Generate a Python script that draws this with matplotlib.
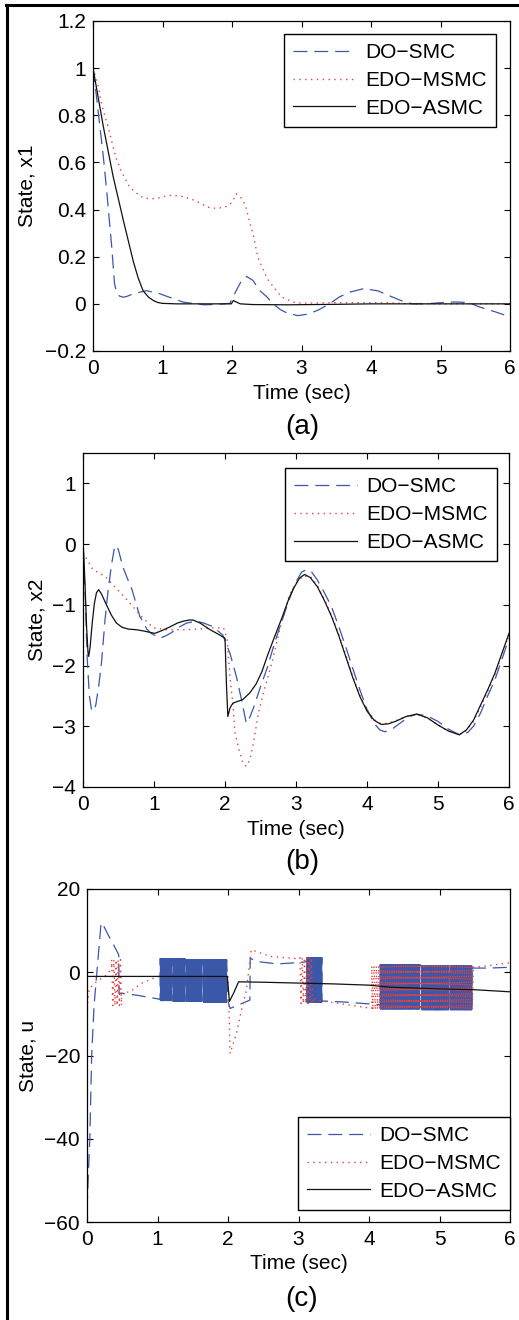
import numpy as np
import matplotlib
matplotlib.use("Agg")
import matplotlib.pyplot as plt
from matplotlib.lines import Line2D

plt.rcParams['font.family'] = ['Liberation Sans', 'DejaVu Sans']
plt.rcParams['lines.scale_dashes'] = False

# ---------------- data: panel (a) state x1 ----------------
t_a_do = [0, 0.05, 0.1, 0.15, 0.2, 0.27, 0.31, 0.34, 0.38, 0.44, 0.5, 0.58, 0.77, 0.96, 1.1, 1.3, 1.6, 1.8,
          1.97, 2.06, 2.14, 2.21, 2.3, 2.4, 2.5, 2.6, 2.7, 2.8, 2.95, 3.1, 3.25, 3.4, 3.55, 3.7, 3.9,
          4.1, 4.3, 4.45, 4.6, 4.8, 5.0, 5.2, 5.4, 5.57, 5.8, 6.0]
x1_do = [1.0, 0.88, 0.75, 0.62, 0.47, 0.24, 0.085, 0.05, 0.033, 0.028, 0.033, 0.043, 0.056, 0.043,
         0.028, 0.007, -0.004, -0.002, 0.002, 0.056, 0.1, 0.116, 0.1, 0.056, 0.03, -0.002, -0.025,
         -0.04, -0.05, -0.043, -0.025, 0.0, 0.03, 0.05, 0.065, 0.055, 0.03, 0.012, 0.0, 0.0, 0.005,
         0.008, 0.006, -0.014, -0.035, -0.055]

t_a_msmc = [0, 0.08, 0.12, 0.2, 0.26, 0.33, 0.41, 0.52, 0.6, 0.72, 0.84, 0.96, 1.08, 1.17, 1.29, 1.41,
            1.53, 1.65, 1.77, 1.9, 2.0, 2.06, 2.15, 2.2, 2.26, 2.3, 2.37, 2.5, 2.6, 2.71, 2.88, 3.0,
            3.5, 4.2, 4.6, 6.0]
x1_msmc = [1.0, 0.92, 0.85, 0.77, 0.7, 0.62, 0.56, 0.5, 0.475, 0.45, 0.445, 0.45, 0.46, 0.46, 0.455,
           0.445, 0.43, 0.41, 0.405, 0.41, 0.43, 0.467, 0.445, 0.41, 0.34, 0.3, 0.2, 0.11, 0.07, 0.03,
           0.007, 0.003, 0.005, 0.005, 0.0, 0.0]

t_a_asmc = [0, 0.15, 0.29, 0.44, 0.58, 0.65, 0.72, 0.8, 0.87, 0.93, 1.0, 1.2, 1.99, 2.02, 2.06, 2.12,
            2.3, 2.8, 3.5, 4.0, 6.0]
x1_asmc = [1.0, 0.75, 0.54, 0.35, 0.18, 0.11, 0.056, 0.028, 0.014, 0.006, 0.002, 0.0, 0.0, 0.014,
           0.008, 0.0, -0.003, -0.004, -0.002, 0.0, 0.0]

# ---------------- data: panel (b) state x2 ----------------
t_b_do = [0, 0.03, 0.06, 0.09, 0.12, 0.15, 0.18, 0.22, 0.26, 0.31, 0.35, 0.4, 0.44, 0.47, 0.5, 0.56,
          0.63, 0.69, 0.8, 0.9, 0.96, 1.08, 1.15, 1.23, 1.35, 1.46, 1.6, 1.7, 1.83, 1.97, 2.07, 2.16,
          2.23, 2.3, 2.35, 2.4, 2.5, 2.6, 2.7, 2.8, 2.9, 3.0, 3.08, 3.15, 3.22, 3.3, 3.4, 3.5, 3.6,
          3.7, 3.8, 3.9, 4.0, 4.1, 4.18, 4.25, 4.35, 4.5, 4.6, 4.7, 4.85, 5.0, 5.15, 5.32, 5.42, 5.5,
          5.6, 5.7, 5.8, 5.9, 6.0]
x2_do = [-0.1, -0.8, -1.9, -2.5, -2.73, -2.75, -2.65, -2.35, -1.96, -1.25, -0.8, -0.35, -0.08, -0.02,
         -0.1, -0.37, -0.58, -0.75, -1.19, -1.4, -1.47, -1.55, -1.52, -1.47, -1.37, -1.3, -1.27, -1.3,
         -1.36, -1.5, -1.8, -2.18, -2.55, -2.95, -2.85, -2.7, -2.35, -2.02, -1.62, -1.27, -0.92,
         -0.62, -0.46, -0.42, -0.46, -0.59, -0.8, -1.03, -1.35, -1.69, -2.05, -2.4, -2.72, -2.95,
         -3.06, -3.09, -3.05, -2.92, -2.84, -2.8, -2.83, -2.92, -3.05, -3.15, -3.1, -3.0, -2.78,
         -2.5, -2.24, -1.9, -1.55]

t_b_msmc = [0, 0.14, 0.31, 0.47, 0.66, 0.82, 0.99, 1.18, 1.41, 1.62, 1.83, 1.98, 2.03, 2.07, 2.11, 2.14,
            2.19, 2.25, 2.3, 2.35, 2.4, 2.47, 2.54, 2.66, 2.77, 2.9, 3.0, 3.1, 3.2, 3.3, 3.4, 3.5,
            3.6, 3.7, 3.8, 3.9, 4.0, 4.1, 4.2, 4.3, 4.4, 4.55, 4.7, 4.85, 5.0, 5.15, 5.3, 5.4, 5.5,
            5.6, 5.7, 5.8, 5.9, 6.0]
x2_msmc = [-0.14, -0.42, -0.53, -0.73, -0.97, -1.19, -1.38, -1.41, -1.41, -1.4, -1.38, -1.38, -1.57,
           -2.18, -2.62, -3.11, -3.35, -3.6, -3.66, -3.55, -3.28, -2.79, -2.45, -1.96, -1.41, -0.86,
           -0.64, -0.53, -0.53, -0.68, -0.91, -1.17, -1.48, -1.83, -2.18, -2.49, -2.73, -2.89,
           -2.96, -2.95, -2.91, -2.84, -2.8, -2.86, -2.98, -3.08, -3.14, -3.07, -2.92, -2.68, -2.42,
           -2.15, -1.82, -1.49]

t_b_asmc = [0, 0.01, 0.03, 0.05, 0.07, 0.08, 0.1, 0.13, 0.16, 0.19, 0.22, 0.26, 0.33, 0.4, 0.47, 0.55,
            0.64, 0.75, 0.85, 0.93, 1.01, 1.1, 1.23, 1.33, 1.41, 1.5, 1.55, 1.65, 1.79, 1.9, 2.0, 2.02,
            2.04, 2.07, 2.11, 2.18, 2.25, 2.35, 2.44, 2.52, 2.6, 2.7, 2.8, 2.9, 2.97, 3.05, 3.12, 3.2,
            3.3, 3.4, 3.5, 3.6, 3.7, 3.8, 3.9, 4.0, 4.1, 4.2, 4.3, 4.4, 4.55, 4.7, 4.85, 5.0, 5.15,
            5.3, 5.4, 5.5, 5.6, 5.7, 5.8, 5.9, 6.0]
x2_asmc = [0.0, -0.15, -0.7, -1.35, -1.78, -1.85, -1.7, -1.3, -0.98, -0.8, -0.75, -0.82, -1.0, -1.17,
           -1.3, -1.37, -1.4, -1.41, -1.43, -1.45, -1.47, -1.43, -1.36, -1.3, -1.27, -1.25, -1.25,
           -1.3, -1.41, -1.48, -1.55, -2.3, -2.84, -2.7, -2.62, -2.59, -2.56, -2.45, -2.3, -2.1,
           -1.83, -1.52, -1.22, -0.9, -0.72, -0.56, -0.5, -0.55, -0.7, -0.93, -1.19, -1.5, -1.85,
           -2.2, -2.51, -2.75, -2.9, -2.97, -2.96, -2.92, -2.84, -2.8, -2.86, -2.98, -3.08, -3.14,
           -3.06, -2.9, -2.65, -2.4, -2.13, -1.8, -1.47]

# ---------------- data: panel (c) control u ----------------
# smooth pieces and chattering bands (t_start, t_end, u_high, u_low, n_switches)
u_do_pieces = [
    ([0, 0.02, 0.04, 0.066, 0.1, 0.14, 0.2, 0.24, 0.3, 0.38, 0.45, 0.455, 0.7, 1.04],
     [-57, -48, -40, -20, -8, 0, 11.9, 11.0, 9.0, 6.5, 4.2, -5.0, -5.5, -6.5]),
    ([2.0, 2.03, 2.31, 2.315, 2.4, 2.7, 3.07, 3.12],
     [-7.0, -8.7, -6.7, 3.4, 2.6, 2.0, 2.4, 2.6]),
    ([3.33, 3.6, 4.0, 4.16], [-6.9, -7.1, -7.6, -7.8]),
    ([5.46, 5.7, 6.0], [1.0, 1.0, 1.2]),
]
u_do_chatter = [(1.04, 1.2, 3.3, -6.8, 50), (1.22, 1.39, 3.2, -7.0, 52), (1.41, 1.63, 3.0, -7.0, 66),
                (1.65, 1.98, 3.0, -7.2, 100), (3.12, 3.33, 3.5, -7.2, 64),
                (4.16, 4.72, 1.8, -8.8, 170), (4.75, 5.13, 1.5, -9.0, 116), (5.15, 5.46, 1.5, -9.0, 94)]

u_msmc_pieces = [
    ([0, 0.01, 0.03, 0.12, 0.28, 0.35], [-10.3, -7.0, -4.0, -2.5, -0.65, 1.0]),
    ([0.49, 0.61, 0.77, 1.0, 2.0], [-5.0, -4.7, -2.7, -1.0, -1.0]),
    ([2.0, 2.03, 2.12, 2.19, 2.26, 2.33, 2.6, 3.02], [-1.0, -19.5, -14.7, -9.1, -4.4, 5.4, 3.8, 3.2]),
    ([3.2, 3.26, 3.73, 4.04], [-6.0, -6.7, -7.9, -8.7]),
    ([5.48, 5.62, 5.95, 6.0], [1.2, 1.4, 2.2, 2.2]),
]
u_msmc_chatter = [(0.35, 0.49, 3.0, -8.0, 9), (3.02, 3.2, 3.5, -7.5, 11), (4.04, 5.48, 1.5, -9.0, 90)]

t_c_asmc = [0, 1.99, 2.02, 2.08, 2.15, 2.5, 3.0, 3.5, 4.0, 4.3, 5.0, 5.5, 6.0]
u_asmc = [-1.0, -1.0, -7.0, -5.0, -2.3, -2.4, -2.6, -2.8, -3.1, -3.6, -4.0, -4.2, -4.7]

labels = ['DO\u2212SMC', 'EDO\u2212MSMC', 'EDO\u2212ASMC']
x_ticks = [0, 1, 2, 3, 4, 5, 6]


def chatter_xy(band):
    t0, t1, hi, lo, n = band
    tt = np.linspace(t0, t1, n + 1)
    uu = np.where(np.arange(n + 1) % 2 == 0, hi, lo)
    return tt, uu


def build_series(pieces, chatter):
    segs = []
    for tt, uu in pieces:
        segs.append((tt[0], np.asarray(tt, float), np.asarray(uu, float)))
    for band in chatter:
        tt, uu = chatter_xy(band)
        segs.append((band[0], tt, uu))
    segs.sort(key=lambda s: s[0])
    T = np.concatenate([s[1] for s in segs])
    U = np.concatenate([s[2] for s in segs])
    return T, U


BLUE = '#3a57a8'
RED = '#e54040'
BLACK = '#111111'

fig = plt.figure(figsize=(5.19, 13.2), dpi=100)
W, H = 519.0, 1320.0


def add_ax(l, r, t, b):
    return fig.add_axes([l / W, 1 - b / H, (r - l) / W, (b - t) / H])


axa = add_ax(93, 510, 21, 351)
axb = add_ax(83, 509, 453, 787)
axc = add_ax(87, 510, 889, 1222)

style_do = dict(color=BLUE, lw=0.9, dashes=(10, 5))
style_ms = dict(color=RED, lw=1.0, dashes=(1.0, 3.2))
style_as = dict(color=BLACK, lw=0.9)

# panel a
axa.plot(t_a_do, x1_do, label=labels[0], **style_do)
axa.plot(t_a_msmc, x1_msmc, label=labels[1], **style_ms)
axa.plot(t_a_asmc, x1_asmc, label=labels[2], **style_as)
axa.set_ylim(-0.2, 1.2)
axa.set_yticks([-0.2, 0, 0.2, 0.4, 0.6, 0.8, 1.0, 1.2])
axa.set_yticklabels(['\u22120.2', '0', '0.2', '0.4', '0.6', '0.8', '1', '1.2'])
axa.set_ylabel('State, x1')
axa.yaxis.set_label_coords(-0.135, 0.5)

# panel b
axb.plot(t_b_do, x2_do, label=labels[0], **style_do)
axb.plot(t_b_msmc, x2_msmc, label=labels[1], **style_ms)
axb.plot(t_b_asmc, x2_asmc, label=labels[2], **style_as)
axb.set_ylim(-4, 1.5)
axb.set_yticks([-4, -3, -2, -1, 0, 1])
axb.set_yticklabels(['\u22124', '\u22123', '\u22122', '\u22121', '0', '1'])
axb.set_ylabel('State, x2')
axb.yaxis.set_label_coords(-0.085, 0.5)

# panel c
Td, Ud = build_series(u_do_pieces, u_do_chatter)
Tm, Um = build_series(u_msmc_pieces, u_msmc_chatter)
axc.plot(Td, Ud, label=labels[0], **style_do)
# the fast switching of DO-SMC renders as dense solid blocks
for band in u_do_chatter:
    tt, uu = chatter_xy(band)
    axc.plot(tt, uu, color=BLUE, lw=0.8)
axc.plot(Tm, Um, label=labels[1], **style_ms)
axc.plot(t_c_asmc, u_asmc, label=labels[2], **style_as)
axc.set_ylim(-60, 20)
axc.set_yticks([-60, -40, -20, 0, 20])
axc.set_yticklabels(['\u221260', '\u221240', '\u221220', '0', '20'])
axc.set_ylabel('State, u')
axc.yaxis.set_label_coords(-0.118, 0.5)

leg_kw = dict(fontsize=15, handlelength=3.0, handletextpad=0.45, borderpad=0.45,
              labelspacing=0.42, borderaxespad=0, fancybox=False, framealpha=1)
for ax, loc, anchor, lp in [(axa, 'upper right', (0.966, 0.961), -0.1),
                            (axb, 'upper right', (0.972, 0.955), -0.099),
                            (axc, 'lower right', (1.0, 0.036), -0.096)]:
    ax.set_xlim(0, 6)
    ax.set_xticks(x_ticks)
    ax.set_xlabel('Time (sec)', fontsize=15)
    ax.xaxis.set_label_coords(0.5, lp)
    ax.yaxis.label.set_fontsize(15)
    ax.tick_params(direction='in', length=4, width=0.8, top=True, right=True,
                   labelsize=15, colors='black')
    ax.tick_params(axis='x', pad=6)
    ax.tick_params(axis='y', pad=5)
    for s in ax.spines.values():
        s.set_linewidth(0.9)
    leg = ax.legend(loc=loc, bbox_to_anchor=anchor, **leg_kw)
    leg.get_frame().set_edgecolor('black')
    leg.get_frame().set_linewidth(1.0)

fig.text(302 / W, 1 - 427 / H, '(a)', fontsize=20, ha='center', va='center')
fig.text(302 / W, 1 - 862 / H, '(b)', fontsize=20, ha='center', va='center')
fig.text(302 / W, 1 - 1299 / H, '(c)', fontsize=20, ha='center', va='center')

# figure border (left and top)
fig.add_artist(Line2D([7 / W, 7 / W], [0, 1 - 4.5 / H], transform=fig.transFigure, color='black', lw=2.2))
fig.add_artist(Line2D([5.9 / W, 1], [1 - 4.5 / H, 1 - 4.5 / H], transform=fig.transFigure, color='black', lw=2.2))

fig.savefig('out.png', dpi=100)
